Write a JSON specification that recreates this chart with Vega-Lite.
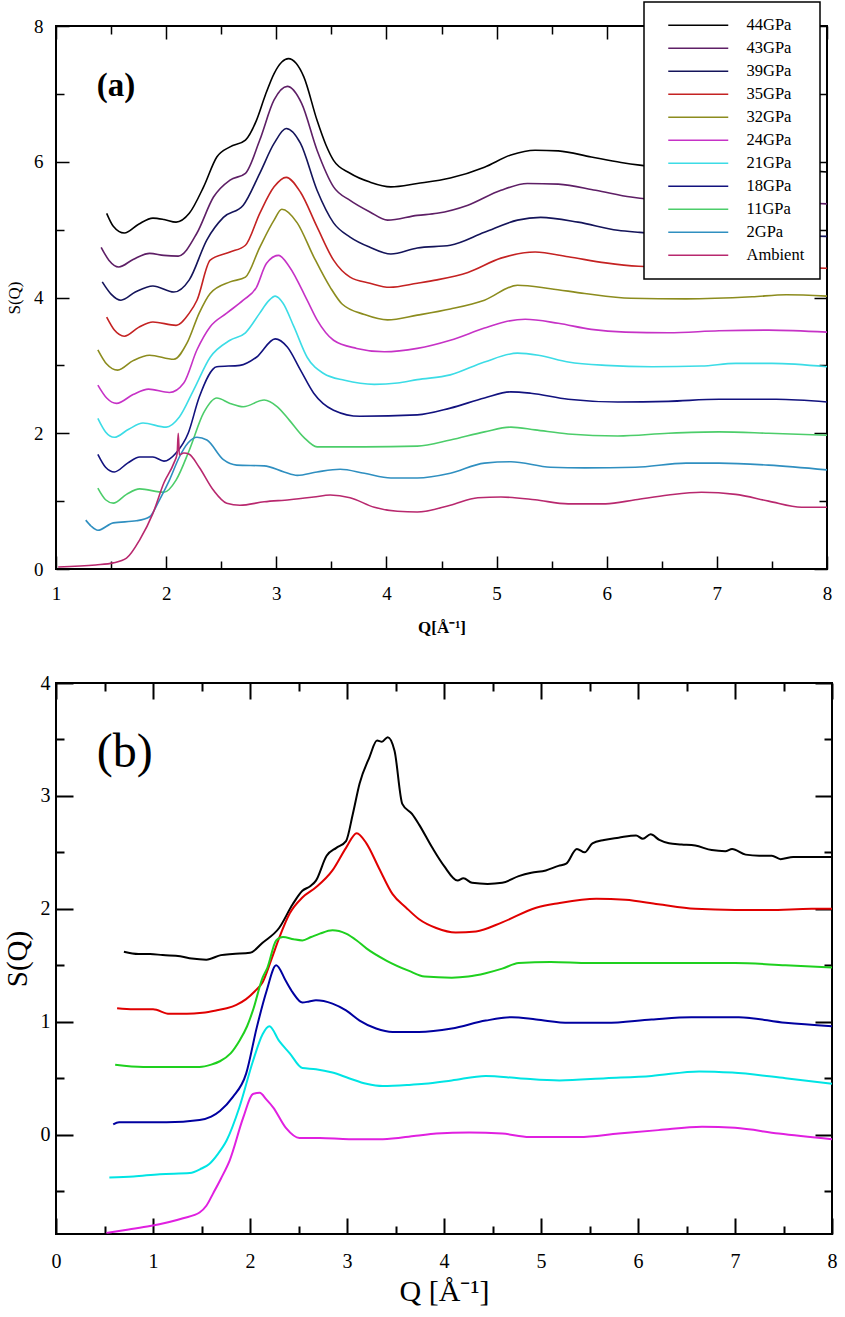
{
  "$schema": "https://vega.github.io/schema/vega-lite/v6.json",
  "background": "white",
  "padding": {"left": 2, "top": 0, "right": 5, "bottom": 5},
  "spacing": 36,
  "datasets": {
    "a": [
      {"p":"44GPa","Q":1.46,"S":5.24},{"p":"44GPa","Q":1.52,"S":5.05},{"p":"44GPa","Q":1.62,"S":4.95},{"p":"44GPa","Q":1.75,"S":5.08},{"p":"44GPa","Q":1.88,"S":5.17},{"p":"44GPa","Q":1.98,"S":5.15},{"p":"44GPa","Q":2.09,"S":5.11},{"p":"44GPa","Q":2.21,"S":5.24},{"p":"44GPa","Q":2.34,"S":5.63},{"p":"44GPa","Q":2.46,"S":6.07},{"p":"44GPa","Q":2.58,"S":6.22},{"p":"44GPa","Q":2.72,"S":6.32},{"p":"44GPa","Q":2.82,"S":6.61},{"p":"44GPa","Q":2.9,"S":6.98},{"p":"44GPa","Q":2.98,"S":7.3},{"p":"44GPa","Q":3.05,"S":7.47},{"p":"44GPa","Q":3.11,"S":7.52},{"p":"44GPa","Q":3.18,"S":7.45},{"p":"44GPa","Q":3.25,"S":7.25},{"p":"44GPa","Q":3.37,"S":6.61},{"p":"44GPa","Q":3.45,"S":6.25},{"p":"44GPa","Q":3.52,"S":6.02},{"p":"44GPa","Q":3.67,"S":5.83},{"p":"44GPa","Q":3.85,"S":5.7},{"p":"44GPa","Q":4.04,"S":5.63},{"p":"44GPa","Q":4.28,"S":5.68},{"p":"44GPa","Q":4.58,"S":5.76},{"p":"44GPa","Q":4.89,"S":5.92},{"p":"44GPa","Q":5.13,"S":6.1},{"p":"44GPa","Q":5.35,"S":6.17},{"p":"44GPa","Q":5.56,"S":6.16},{"p":"44GPa","Q":5.86,"S":6.07},{"p":"44GPa","Q":6.13,"S":5.99},{"p":"44GPa","Q":6.3,"S":5.95},{"p":"44GPa","Q":6.6,"S":5.9},{"p":"44GPa","Q":7.0,"S":5.88},{"p":"44GPa","Q":7.5,"S":5.88},{"p":"44GPa","Q":8.0,"S":5.85},
      {"p":"43GPa","Q":1.41,"S":4.74},{"p":"43GPa","Q":1.48,"S":4.55},{"p":"43GPa","Q":1.57,"S":4.45},{"p":"43GPa","Q":1.7,"S":4.56},{"p":"43GPa","Q":1.85,"S":4.65},{"p":"43GPa","Q":1.98,"S":4.62},{"p":"43GPa","Q":2.11,"S":4.61},{"p":"43GPa","Q":2.28,"S":4.95},{"p":"43GPa","Q":2.43,"S":5.48},{"p":"43GPa","Q":2.58,"S":5.73},{"p":"43GPa","Q":2.72,"S":5.83},{"p":"43GPa","Q":2.85,"S":6.32},{"p":"43GPa","Q":2.98,"S":6.91},{"p":"43GPa","Q":3.1,"S":7.11},{"p":"43GPa","Q":3.23,"S":6.86},{"p":"43GPa","Q":3.37,"S":6.17},{"p":"43GPa","Q":3.52,"S":5.63},{"p":"43GPa","Q":3.67,"S":5.43},{"p":"43GPa","Q":3.85,"S":5.26},{"p":"43GPa","Q":4.01,"S":5.14},{"p":"43GPa","Q":4.28,"S":5.21},{"p":"43GPa","Q":4.46,"S":5.24},{"p":"43GPa","Q":4.74,"S":5.36},{"p":"43GPa","Q":5.04,"S":5.58},{"p":"43GPa","Q":5.28,"S":5.68},{"p":"43GPa","Q":5.56,"S":5.67},{"p":"43GPa","Q":5.9,"S":5.58},{"p":"43GPa","Q":6.22,"S":5.48},{"p":"43GPa","Q":6.6,"S":5.42},{"p":"43GPa","Q":7.0,"S":5.4},{"p":"43GPa","Q":7.5,"S":5.4},{"p":"43GPa","Q":8.0,"S":5.38},
      {"p":"39GPa","Q":1.42,"S":4.23},{"p":"39GPa","Q":1.5,"S":4.05},{"p":"39GPa","Q":1.59,"S":3.96},{"p":"39GPa","Q":1.72,"S":4.08},{"p":"39GPa","Q":1.88,"S":4.17},{"p":"39GPa","Q":2.07,"S":4.08},{"p":"39GPa","Q":2.21,"S":4.26},{"p":"39GPa","Q":2.37,"S":4.85},{"p":"39GPa","Q":2.52,"S":5.18},{"p":"39GPa","Q":2.7,"S":5.36},{"p":"39GPa","Q":2.85,"S":5.83},{"p":"39GPa","Q":2.98,"S":6.27},{"p":"39GPa","Q":3.09,"S":6.49},{"p":"39GPa","Q":3.22,"S":6.27},{"p":"39GPa","Q":3.37,"S":5.58},{"p":"39GPa","Q":3.52,"S":5.1},{"p":"39GPa","Q":3.67,"S":4.89},{"p":"39GPa","Q":3.85,"S":4.74},{"p":"39GPa","Q":4.04,"S":4.64},{"p":"39GPa","Q":4.28,"S":4.73},{"p":"39GPa","Q":4.58,"S":4.77},{"p":"39GPa","Q":4.89,"S":4.96},{"p":"39GPa","Q":5.19,"S":5.14},{"p":"39GPa","Q":5.4,"S":5.18},{"p":"39GPa","Q":5.74,"S":5.11},{"p":"39GPa","Q":6.1,"S":4.99},{"p":"39GPa","Q":6.3,"S":4.96},{"p":"39GPa","Q":6.7,"S":4.92},{"p":"39GPa","Q":7.2,"S":4.92},{"p":"39GPa","Q":8.0,"S":4.9},
      {"p":"35GPa","Q":1.46,"S":3.71},{"p":"35GPa","Q":1.53,"S":3.52},{"p":"35GPa","Q":1.62,"S":3.43},{"p":"35GPa","Q":1.75,"S":3.56},{"p":"35GPa","Q":1.88,"S":3.64},{"p":"35GPa","Q":2.09,"S":3.59},{"p":"35GPa","Q":2.21,"S":3.77},{"p":"35GPa","Q":2.28,"S":3.96},{"p":"35GPa","Q":2.4,"S":4.55},{"p":"35GPa","Q":2.58,"S":4.67},{"p":"35GPa","Q":2.72,"S":4.77},{"p":"35GPa","Q":2.85,"S":5.24},{"p":"35GPa","Q":2.98,"S":5.63},{"p":"35GPa","Q":3.09,"S":5.77},{"p":"35GPa","Q":3.22,"S":5.55},{"p":"35GPa","Q":3.37,"S":5.04},{"p":"35GPa","Q":3.52,"S":4.55},{"p":"35GPa","Q":3.67,"S":4.3},{"p":"35GPa","Q":3.85,"S":4.21},{"p":"35GPa","Q":4.03,"S":4.15},{"p":"35GPa","Q":4.28,"S":4.21},{"p":"35GPa","Q":4.46,"S":4.26},{"p":"35GPa","Q":4.74,"S":4.37},{"p":"35GPa","Q":5.04,"S":4.58},{"p":"35GPa","Q":5.35,"S":4.67},{"p":"35GPa","Q":5.65,"S":4.6},{"p":"35GPa","Q":5.99,"S":4.51},{"p":"35GPa","Q":6.29,"S":4.46},{"p":"35GPa","Q":6.7,"S":4.44},{"p":"35GPa","Q":7.2,"S":4.45},{"p":"35GPa","Q":8.0,"S":4.43},
      {"p":"32GPa","Q":1.38,"S":3.23},{"p":"32GPa","Q":1.46,"S":3.02},{"p":"32GPa","Q":1.56,"S":2.93},{"p":"32GPa","Q":1.7,"S":3.07},{"p":"32GPa","Q":1.85,"S":3.15},{"p":"32GPa","Q":2.07,"S":3.09},{"p":"32GPa","Q":2.19,"S":3.33},{"p":"32GPa","Q":2.3,"S":3.77},{"p":"32GPa","Q":2.4,"S":4.06},{"p":"32GPa","Q":2.58,"S":4.23},{"p":"32GPa","Q":2.72,"S":4.3},{"p":"32GPa","Q":2.85,"S":4.74},{"p":"32GPa","Q":2.98,"S":5.14},{"p":"32GPa","Q":3.05,"S":5.3},{"p":"32GPa","Q":3.19,"S":5.1},{"p":"32GPa","Q":3.34,"S":4.6},{"p":"32GPa","Q":3.49,"S":4.15},{"p":"32GPa","Q":3.6,"S":3.9},{"p":"32GPa","Q":3.8,"S":3.75},{"p":"32GPa","Q":4.01,"S":3.67},{"p":"32GPa","Q":4.28,"S":3.74},{"p":"32GPa","Q":4.58,"S":3.83},{"p":"32GPa","Q":4.89,"S":3.96},{"p":"32GPa","Q":5.19,"S":4.18},{"p":"32GPa","Q":5.49,"S":4.13},{"p":"32GPa","Q":5.8,"S":4.06},{"p":"32GPa","Q":6.22,"S":3.99},{"p":"32GPa","Q":6.72,"S":3.98},{"p":"32GPa","Q":7.32,"S":4.01},{"p":"32GPa","Q":7.63,"S":4.04},{"p":"32GPa","Q":8.0,"S":4.02},
      {"p":"24GPa","Q":1.38,"S":2.71},{"p":"24GPa","Q":1.46,"S":2.52},{"p":"24GPa","Q":1.55,"S":2.44},{"p":"24GPa","Q":1.7,"S":2.57},{"p":"24GPa","Q":1.84,"S":2.65},{"p":"24GPa","Q":2.03,"S":2.6},{"p":"24GPa","Q":2.16,"S":2.74},{"p":"24GPa","Q":2.28,"S":3.23},{"p":"24GPa","Q":2.4,"S":3.57},{"p":"24GPa","Q":2.55,"S":3.77},{"p":"24GPa","Q":2.7,"S":3.96},{"p":"24GPa","Q":2.82,"S":4.15},{"p":"24GPa","Q":2.91,"S":4.5},{"p":"24GPa","Q":3.02,"S":4.62},{"p":"24GPa","Q":3.12,"S":4.45},{"p":"24GPa","Q":3.28,"S":3.96},{"p":"24GPa","Q":3.37,"S":3.67},{"p":"24GPa","Q":3.52,"S":3.37},{"p":"24GPa","Q":3.73,"S":3.25},{"p":"24GPa","Q":3.98,"S":3.2},{"p":"24GPa","Q":4.28,"S":3.25},{"p":"24GPa","Q":4.58,"S":3.37},{"p":"24GPa","Q":4.89,"S":3.55},{"p":"24GPa","Q":5.07,"S":3.64},{"p":"24GPa","Q":5.26,"S":3.68},{"p":"24GPa","Q":5.56,"S":3.62},{"p":"24GPa","Q":5.86,"S":3.53},{"p":"24GPa","Q":6.17,"S":3.49},{"p":"24GPa","Q":6.56,"S":3.48},{"p":"24GPa","Q":7.02,"S":3.51},{"p":"24GPa","Q":7.47,"S":3.52},{"p":"24GPa","Q":8.0,"S":3.49},
      {"p":"21GPa","Q":1.38,"S":2.22},{"p":"21GPa","Q":1.45,"S":2.02},{"p":"21GPa","Q":1.53,"S":1.94},{"p":"21GPa","Q":1.66,"S":2.06},{"p":"21GPa","Q":1.79,"S":2.15},{"p":"21GPa","Q":2.0,"S":2.09},{"p":"21GPa","Q":2.12,"S":2.24},{"p":"21GPa","Q":2.25,"S":2.64},{"p":"21GPa","Q":2.4,"S":3.12},{"p":"21GPa","Q":2.58,"S":3.37},{"p":"21GPa","Q":2.72,"S":3.48},{"p":"21GPa","Q":2.85,"S":3.77},{"p":"21GPa","Q":2.93,"S":3.95},{"p":"21GPa","Q":2.99,"S":4.02},{"p":"21GPa","Q":3.06,"S":3.92},{"p":"21GPa","Q":3.16,"S":3.57},{"p":"21GPa","Q":3.28,"S":3.12},{"p":"21GPa","Q":3.43,"S":2.88},{"p":"21GPa","Q":3.62,"S":2.78},{"p":"21GPa","Q":3.89,"S":2.72},{"p":"21GPa","Q":4.1,"S":2.74},{"p":"21GPa","Q":4.28,"S":2.79},{"p":"21GPa","Q":4.58,"S":2.86},{"p":"21GPa","Q":4.89,"S":3.05},{"p":"21GPa","Q":5.19,"S":3.18},{"p":"21GPa","Q":5.38,"S":3.15},{"p":"21GPa","Q":5.65,"S":3.05},{"p":"21GPa","Q":5.99,"S":3.0},{"p":"21GPa","Q":6.41,"S":2.98},{"p":"21GPa","Q":6.86,"S":2.99},{"p":"21GPa","Q":7.17,"S":3.03},{"p":"21GPa","Q":7.5,"S":3.03},{"p":"21GPa","Q":8.0,"S":2.98},
      {"p":"18GPa","Q":1.38,"S":1.69},{"p":"18GPa","Q":1.45,"S":1.5},{"p":"18GPa","Q":1.53,"S":1.43},{"p":"18GPa","Q":1.65,"S":1.56},{"p":"18GPa","Q":1.76,"S":1.65},{"p":"18GPa","Q":1.88,"S":1.65},{"p":"18GPa","Q":1.98,"S":1.59},{"p":"18GPa","Q":2.09,"S":1.71},{"p":"18GPa","Q":2.2,"S":2.0},{"p":"18GPa","Q":2.3,"S":2.53},{"p":"18GPa","Q":2.46,"S":2.98},{"p":"18GPa","Q":2.67,"S":3.0},{"p":"18GPa","Q":2.82,"S":3.12},{"p":"18GPa","Q":2.99,"S":3.39},{"p":"18GPa","Q":3.1,"S":3.27},{"p":"18GPa","Q":3.22,"S":2.93},{"p":"18GPa","Q":3.34,"S":2.59},{"p":"18GPa","Q":3.52,"S":2.34},{"p":"18GPa","Q":3.76,"S":2.25},{"p":"18GPa","Q":4.28,"S":2.27},{"p":"18GPa","Q":4.58,"S":2.37},{"p":"18GPa","Q":4.89,"S":2.52},{"p":"18GPa","Q":5.13,"S":2.61},{"p":"18GPa","Q":5.31,"S":2.59},{"p":"18GPa","Q":5.65,"S":2.5},{"p":"18GPa","Q":6.1,"S":2.46},{"p":"18GPa","Q":6.56,"S":2.47},{"p":"18GPa","Q":7.02,"S":2.5},{"p":"18GPa","Q":7.54,"S":2.5},{"p":"18GPa","Q":8.0,"S":2.46},
      {"p":"11GPa","Q":1.38,"S":1.19},{"p":"11GPa","Q":1.45,"S":1.02},{"p":"11GPa","Q":1.52,"S":0.97},{"p":"11GPa","Q":1.64,"S":1.1},{"p":"11GPa","Q":1.76,"S":1.18},{"p":"11GPa","Q":1.98,"S":1.13},{"p":"11GPa","Q":2.09,"S":1.31},{"p":"11GPa","Q":2.21,"S":1.75},{"p":"11GPa","Q":2.34,"S":2.3},{"p":"11GPa","Q":2.46,"S":2.52},{"p":"11GPa","Q":2.58,"S":2.44},{"p":"11GPa","Q":2.7,"S":2.39},{"p":"11GPa","Q":2.89,"S":2.49},{"p":"11GPa","Q":3.01,"S":2.39},{"p":"11GPa","Q":3.12,"S":2.19},{"p":"11GPa","Q":3.25,"S":1.94},{"p":"11GPa","Q":3.37,"S":1.8},{"p":"11GPa","Q":3.8,"S":1.8},{"p":"11GPa","Q":4.28,"S":1.81},{"p":"11GPa","Q":4.58,"S":1.9},{"p":"11GPa","Q":4.89,"S":2.02},{"p":"11GPa","Q":5.13,"S":2.09},{"p":"11GPa","Q":5.35,"S":2.05},{"p":"11GPa","Q":5.65,"S":1.99},{"p":"11GPa","Q":6.1,"S":1.96},{"p":"11GPa","Q":6.56,"S":2.0},{"p":"11GPa","Q":7.02,"S":2.02},{"p":"11GPa","Q":7.47,"S":2.0},{"p":"11GPa","Q":8.0,"S":1.97},
      {"p":"2GPa","Q":1.27,"S":0.72},{"p":"2GPa","Q":1.32,"S":0.63},{"p":"2GPa","Q":1.38,"S":0.57},{"p":"2GPa","Q":1.52,"S":0.68},{"p":"2GPa","Q":1.73,"S":0.71},{"p":"2GPa","Q":1.85,"S":0.77},{"p":"2GPa","Q":1.94,"S":1.02},{"p":"2GPa","Q":2.03,"S":1.31},{"p":"2GPa","Q":2.12,"S":1.65},{"p":"2GPa","Q":2.2,"S":1.86},{"p":"2GPa","Q":2.28,"S":1.94},{"p":"2GPa","Q":2.37,"S":1.9},{"p":"2GPa","Q":2.52,"S":1.61},{"p":"2GPa","Q":2.64,"S":1.53},{"p":"2GPa","Q":2.89,"S":1.52},{"p":"2GPa","Q":3.07,"S":1.43},{"p":"2GPa","Q":3.19,"S":1.38},{"p":"2GPa","Q":3.37,"S":1.43},{"p":"2GPa","Q":3.58,"S":1.47},{"p":"2GPa","Q":3.8,"S":1.41},{"p":"2GPa","Q":4.04,"S":1.34},{"p":"2GPa","Q":4.28,"S":1.34},{"p":"2GPa","Q":4.58,"S":1.41},{"p":"2GPa","Q":4.89,"S":1.56},{"p":"2GPa","Q":5.13,"S":1.58},{"p":"2GPa","Q":5.49,"S":1.5},{"p":"2GPa","Q":5.8,"S":1.49},{"p":"2GPa","Q":6.26,"S":1.5},{"p":"2GPa","Q":6.72,"S":1.56},{"p":"2GPa","Q":7.02,"S":1.56},{"p":"2GPa","Q":7.47,"S":1.53},{"p":"2GPa","Q":8.0,"S":1.46},
      {"p":"Ambient","Q":1.02,"S":0.03},{"p":"Ambient","Q":1.36,"S":0.06},{"p":"Ambient","Q":1.52,"S":0.09},{"p":"Ambient","Q":1.64,"S":0.16},{"p":"Ambient","Q":1.76,"S":0.43},{"p":"Ambient","Q":1.88,"S":0.82},{"p":"Ambient","Q":1.98,"S":1.27},{"p":"Ambient","Q":2.07,"S":1.56},{"p":"Ambient","Q":2.1,"S":1.7},{"p":"Ambient","Q":2.11,"S":2.0},{"p":"Ambient","Q":2.12,"S":1.68},{"p":"Ambient","Q":2.16,"S":1.71},{"p":"Ambient","Q":2.21,"S":1.69},{"p":"Ambient","Q":2.3,"S":1.5},{"p":"Ambient","Q":2.43,"S":1.16},{"p":"Ambient","Q":2.55,"S":0.97},{"p":"Ambient","Q":2.67,"S":0.94},{"p":"Ambient","Q":2.89,"S":0.99},{"p":"Ambient","Q":3.12,"S":1.02},{"p":"Ambient","Q":3.34,"S":1.06},{"p":"Ambient","Q":3.49,"S":1.09},{"p":"Ambient","Q":3.67,"S":1.05},{"p":"Ambient","Q":3.89,"S":0.91},{"p":"Ambient","Q":4.1,"S":0.85},{"p":"Ambient","Q":4.28,"S":0.84},{"p":"Ambient","Q":4.58,"S":0.94},{"p":"Ambient","Q":4.83,"S":1.05},{"p":"Ambient","Q":5.04,"S":1.06},{"p":"Ambient","Q":5.35,"S":1.02},{"p":"Ambient","Q":5.65,"S":0.96},{"p":"Ambient","Q":5.99,"S":0.96},{"p":"Ambient","Q":6.26,"S":1.02},{"p":"Ambient","Q":6.56,"S":1.09},{"p":"Ambient","Q":6.86,"S":1.13},{"p":"Ambient","Q":7.17,"S":1.1},{"p":"Ambient","Q":7.47,"S":1.0},{"p":"Ambient","Q":7.77,"S":0.91},{"p":"Ambient","Q":8.0,"S":0.91}
    ],
    "b": [
      {"c":"k","Q":0.7,"S":1.62},{"c":"k","Q":0.85,"S":1.6},{"c":"k","Q":0.97,"S":1.6},{"c":"k","Q":1.1,"S":1.59},{"c":"k","Q":1.28,"S":1.58},{"c":"k","Q":1.4,"S":1.56},{"c":"k","Q":1.55,"S":1.55},{"c":"k","Q":1.7,"S":1.59},{"c":"k","Q":1.82,"S":1.6},{"c":"k","Q":2.0,"S":1.61},{"c":"k","Q":2.13,"S":1.7},{"c":"k","Q":2.3,"S":1.83},{"c":"k","Q":2.44,"S":2.04},{"c":"k","Q":2.54,"S":2.16},{"c":"k","Q":2.62,"S":2.2},{"c":"k","Q":2.68,"S":2.25},{"c":"k","Q":2.79,"S":2.47},{"c":"k","Q":2.89,"S":2.54},{"c":"k","Q":2.99,"S":2.6},{"c":"k","Q":3.06,"S":2.84},{"c":"k","Q":3.13,"S":3.11},{"c":"k","Q":3.23,"S":3.34},{"c":"k","Q":3.31,"S":3.49},{"c":"k","Q":3.36,"S":3.48},{"c":"k","Q":3.42,"S":3.52},{"c":"k","Q":3.49,"S":3.4},{"c":"k","Q":3.57,"S":2.93},{"c":"k","Q":3.67,"S":2.84},{"c":"k","Q":3.74,"S":2.75},{"c":"k","Q":3.88,"S":2.54},{"c":"k","Q":4.0,"S":2.38},{"c":"k","Q":4.14,"S":2.25},{"c":"k","Q":4.2,"S":2.27},{"c":"k","Q":4.29,"S":2.23},{"c":"k","Q":4.45,"S":2.22},{"c":"k","Q":4.6,"S":2.23},{"c":"k","Q":4.77,"S":2.29},{"c":"k","Q":4.9,"S":2.32},{"c":"k","Q":5.05,"S":2.34},{"c":"k","Q":5.18,"S":2.38},{"c":"k","Q":5.26,"S":2.4},{"c":"k","Q":5.37,"S":2.53},{"c":"k","Q":5.45,"S":2.5},{"c":"k","Q":5.53,"S":2.58},{"c":"k","Q":5.65,"S":2.61},{"c":"k","Q":5.8,"S":2.63},{"c":"k","Q":5.98,"S":2.65},{"c":"k","Q":6.05,"S":2.62},{"c":"k","Q":6.13,"S":2.66},{"c":"k","Q":6.22,"S":2.61},{"c":"k","Q":6.32,"S":2.58},{"c":"k","Q":6.45,"S":2.57},{"c":"k","Q":6.59,"S":2.56},{"c":"k","Q":6.76,"S":2.52},{"c":"k","Q":6.9,"S":2.51},{"c":"k","Q":6.97,"S":2.53},{"c":"k","Q":7.11,"S":2.48},{"c":"k","Q":7.25,"S":2.47},{"c":"k","Q":7.38,"S":2.47},{"c":"k","Q":7.47,"S":2.44},{"c":"k","Q":7.6,"S":2.46},{"c":"k","Q":7.69,"S":2.46},{"c":"k","Q":7.85,"S":2.46},{"c":"k","Q":8.0,"S":2.46},
      {"c":"r","Q":0.63,"S":1.12},{"c":"r","Q":0.8,"S":1.11},{"c":"r","Q":1.0,"S":1.11},{"c":"r","Q":1.17,"S":1.07},{"c":"r","Q":1.35,"S":1.07},{"c":"r","Q":1.51,"S":1.08},{"c":"r","Q":1.65,"S":1.1},{"c":"r","Q":1.76,"S":1.12},{"c":"r","Q":1.86,"S":1.15},{"c":"r","Q":1.96,"S":1.2},{"c":"r","Q":2.05,"S":1.27},{"c":"r","Q":2.13,"S":1.35},{"c":"r","Q":2.22,"S":1.55},{"c":"r","Q":2.3,"S":1.74},{"c":"r","Q":2.41,"S":1.96},{"c":"r","Q":2.54,"S":2.1},{"c":"r","Q":2.68,"S":2.19},{"c":"r","Q":2.85,"S":2.34},{"c":"r","Q":2.99,"S":2.54},{"c":"r","Q":3.1,"S":2.67},{"c":"r","Q":3.2,"S":2.58},{"c":"r","Q":3.33,"S":2.36},{"c":"r","Q":3.47,"S":2.13},{"c":"r","Q":3.61,"S":2.01},{"c":"r","Q":3.74,"S":1.91},{"c":"r","Q":3.92,"S":1.83},{"c":"r","Q":4.12,"S":1.79},{"c":"r","Q":4.33,"S":1.8},{"c":"r","Q":4.6,"S":1.88},{"c":"r","Q":4.95,"S":2.01},{"c":"r","Q":5.18,"S":2.05},{"c":"r","Q":5.57,"S":2.09},{"c":"r","Q":5.87,"S":2.08},{"c":"r","Q":6.21,"S":2.04},{"c":"r","Q":6.59,"S":2.0},{"c":"r","Q":7.0,"S":1.99},{"c":"r","Q":7.35,"S":1.99},{"c":"r","Q":7.79,"S":2.0},{"c":"r","Q":8.0,"S":2.0},
      {"c":"g","Q":0.61,"S":0.62},{"c":"g","Q":0.9,"S":0.6},{"c":"g","Q":1.2,"S":0.6},{"c":"g","Q":1.48,"S":0.6},{"c":"g","Q":1.6,"S":0.62},{"c":"g","Q":1.69,"S":0.65},{"c":"g","Q":1.8,"S":0.72},{"c":"g","Q":1.89,"S":0.83},{"c":"g","Q":1.97,"S":0.96},{"c":"g","Q":2.03,"S":1.1},{"c":"g","Q":2.13,"S":1.39},{"c":"g","Q":2.18,"S":1.48},{"c":"g","Q":2.27,"S":1.72},{"c":"g","Q":2.34,"S":1.75},{"c":"g","Q":2.45,"S":1.73},{"c":"g","Q":2.54,"S":1.72},{"c":"g","Q":2.63,"S":1.75},{"c":"g","Q":2.72,"S":1.78},{"c":"g","Q":2.85,"S":1.81},{"c":"g","Q":2.99,"S":1.78},{"c":"g","Q":3.1,"S":1.72},{"c":"g","Q":3.2,"S":1.65},{"c":"g","Q":3.41,"S":1.54},{"c":"g","Q":3.64,"S":1.45},{"c":"g","Q":3.8,"S":1.4},{"c":"g","Q":4.08,"S":1.39},{"c":"g","Q":4.25,"S":1.4},{"c":"g","Q":4.43,"S":1.43},{"c":"g","Q":4.6,"S":1.47},{"c":"g","Q":4.77,"S":1.52},{"c":"g","Q":5.1,"S":1.53},{"c":"g","Q":5.5,"S":1.52},{"c":"g","Q":5.8,"S":1.52},{"c":"g","Q":6.49,"S":1.52},{"c":"g","Q":7.0,"S":1.52},{"c":"g","Q":7.52,"S":1.5},{"c":"g","Q":8.0,"S":1.48},
      {"c":"n","Q":0.59,"S":0.09},{"c":"n","Q":0.65,"S":0.11},{"c":"n","Q":0.76,"S":0.11},{"c":"n","Q":1.14,"S":0.11},{"c":"n","Q":1.48,"S":0.13},{"c":"n","Q":1.6,"S":0.16},{"c":"n","Q":1.69,"S":0.21},{"c":"n","Q":1.82,"S":0.33},{"c":"n","Q":1.96,"S":0.54},{"c":"n","Q":2.07,"S":0.95},{"c":"n","Q":2.17,"S":1.27},{"c":"n","Q":2.27,"S":1.5},{"c":"n","Q":2.37,"S":1.36},{"c":"n","Q":2.44,"S":1.26},{"c":"n","Q":2.54,"S":1.17},{"c":"n","Q":2.61,"S":1.18},{"c":"n","Q":2.68,"S":1.19},{"c":"n","Q":2.85,"S":1.16},{"c":"n","Q":2.99,"S":1.1},{"c":"n","Q":3.13,"S":1.01},{"c":"n","Q":3.3,"S":0.94},{"c":"n","Q":3.47,"S":0.91},{"c":"n","Q":3.74,"S":0.91},{"c":"n","Q":4.08,"S":0.94},{"c":"n","Q":4.43,"S":1.01},{"c":"n","Q":4.7,"S":1.04},{"c":"n","Q":4.95,"S":1.02},{"c":"n","Q":5.29,"S":0.99},{"c":"n","Q":5.67,"S":0.99},{"c":"n","Q":6.14,"S":1.02},{"c":"n","Q":6.55,"S":1.04},{"c":"n","Q":7.04,"S":1.04},{"c":"n","Q":7.52,"S":0.99},{"c":"n","Q":8.0,"S":0.96},
      {"c":"c","Q":0.55,"S":-0.38},{"c":"c","Q":0.8,"S":-0.37},{"c":"c","Q":1.07,"S":-0.35},{"c":"c","Q":1.38,"S":-0.34},{"c":"c","Q":1.5,"S":-0.3},{"c":"c","Q":1.58,"S":-0.26},{"c":"c","Q":1.67,"S":-0.17},{"c":"c","Q":1.76,"S":-0.05},{"c":"c","Q":1.89,"S":0.24},{"c":"c","Q":2.03,"S":0.65},{"c":"c","Q":2.13,"S":0.89},{"c":"c","Q":2.2,"S":0.96},{"c":"c","Q":2.3,"S":0.83},{"c":"c","Q":2.41,"S":0.72},{"c":"c","Q":2.54,"S":0.59},{"c":"c","Q":2.68,"S":0.58},{"c":"c","Q":2.85,"S":0.55},{"c":"c","Q":3.02,"S":0.5},{"c":"c","Q":3.2,"S":0.45},{"c":"c","Q":3.37,"S":0.43},{"c":"c","Q":3.64,"S":0.44},{"c":"c","Q":3.8,"S":0.45},{"c":"c","Q":4.08,"S":0.48},{"c":"c","Q":4.43,"S":0.52},{"c":"c","Q":4.77,"S":0.5},{"c":"c","Q":5.19,"S":0.48},{"c":"c","Q":5.67,"S":0.5},{"c":"c","Q":6.14,"S":0.52},{"c":"c","Q":6.63,"S":0.56},{"c":"c","Q":6.97,"S":0.55},{"c":"c","Q":7.52,"S":0.5},{"c":"c","Q":8.0,"S":0.45},
      {"c":"m","Q":0.52,"S":-0.87},{"c":"m","Q":0.75,"S":-0.84},{"c":"m","Q":0.97,"S":-0.81},{"c":"m","Q":1.31,"S":-0.74},{"c":"m","Q":1.48,"S":-0.69},{"c":"m","Q":1.55,"S":-0.63},{"c":"m","Q":1.62,"S":-0.52},{"c":"m","Q":1.7,"S":-0.39},{"c":"m","Q":1.79,"S":-0.23},{"c":"m","Q":1.93,"S":0.15},{"c":"m","Q":2.03,"S":0.36},{"c":"m","Q":2.1,"S":0.37},{"c":"m","Q":2.17,"S":0.31},{"c":"m","Q":2.24,"S":0.24},{"c":"m","Q":2.37,"S":0.06},{"c":"m","Q":2.51,"S":-0.03},{"c":"m","Q":2.72,"S":-0.03},{"c":"m","Q":3.02,"S":-0.04},{"c":"m","Q":3.37,"S":-0.04},{"c":"m","Q":3.71,"S":-0.01},{"c":"m","Q":3.92,"S":0.01},{"c":"m","Q":4.26,"S":0.02},{"c":"m","Q":4.6,"S":0.01},{"c":"m","Q":4.88,"S":-0.02},{"c":"m","Q":5.39,"S":-0.02},{"c":"m","Q":5.8,"S":0.01},{"c":"m","Q":6.21,"S":0.04},{"c":"m","Q":6.66,"S":0.07},{"c":"m","Q":7.0,"S":0.06},{"c":"m","Q":7.45,"S":0.01},{"c":"m","Q":8.0,"S":-0.04}
    ]
  },
  "vconcat": [
    {
      "width": 771,
      "height": 543,
      "layer": [
        {
          "data": {"name": "a"},
          "mark": {"type": "line", "strokeWidth": 1.6, "interpolate": "monotone"},
          "encoding": {
            "x": {"field": "Q", "type": "quantitative", "scale": {"domain": [1, 8], "nice": false, "zero": false},
              "axis": {"orient": "bottom", "values": [1,2,3,4,5,6,7,8], "format": "d", "ticks": false, "domain": false,
                "grid": true, "gridDash": [13, 517, 13], "gridColor": "black", "gridWidth": 1.5, "gridOpacity": 1,
                "labelPadding": 15, "labelFontSize": 19, "title": "Q[Å⁻¹]", "titleFontSize": 17, "titleFontWeight": "bold", "titlePadding": 16}},
            "y": {"field": "S", "type": "quantitative", "scale": {"domain": [0, 8], "nice": false},
              "axis": {"orient": "left", "values": [0,2,4,6,8], "format": "d", "ticks": false, "domain": false,
                "grid": true, "gridDash": [13, 745, 13], "gridColor": "black", "gridWidth": 1.5, "gridOpacity": 1,
                "labelPadding": 13, "labelFontSize": 19, "title": "S(Q)", "titleFontSize": 17, "titleFontWeight": "normal", "titlePadding": 10}},
            "color": {"field": "p", "type": "nominal",
              "scale": {"domain": ["44GPa","43GPa","39GPa","35GPa","32GPa","24GPa","21GPa","18GPa","11GPa","2GPa","Ambient"],
                "range": ["#000000","#5e1f66","#14145a","#c42222","#8c8c1e","#c632c6","#3cdce6","#12127e","#4ccd6a","#2f8fc0","#b8286e"]},
              "legend": {"orient": "none", "legendX": 588, "legendY": -24, "title": null,
                "symbolType": "M-6,0H6", "symbolSize": 100, "symbolStrokeWidth": 1.5,
                "symbolOffset": 31, "labelOffset": 40, "labelFont": "Liberation Serif", "labelFontSize": 16.5, "labelColor": "black",
                "rowPadding": 6.0, "padding": 15, "strokeColor": "black", "fillColor": "white"}}
          }
        },
        {
          "data": {"values": [{"Q": 1.37, "S": 7.12, "t": "(a)"}]},
          "mark": {"type": "text", "align": "left", "baseline": "middle", "font": "Liberation Serif", "fontSize": 33, "fontWeight": "bold", "color": "black"},
          "encoding": {
            "x": {"field": "Q", "type": "quantitative",
              "axis": {"orient": "top", "values": [1.5,2.5,3.5,4.5,5.5,6.5,7.5], "labels": false, "title": null, "ticks": false, "domain": false,
                "grid": true, "gridDash": [8, 527, 8], "gridColor": "black", "gridWidth": 1.5, "gridOpacity": 1}},
            "y": {"field": "S", "type": "quantitative",
              "axis": {"orient": "right", "values": [1,3,5,7], "labels": false, "title": null, "ticks": false, "domain": false,
                "grid": true, "gridDash": [8, 755, 8], "gridColor": "black", "gridWidth": 1.5, "gridOpacity": 1}},
            "text": {"field": "t"}
          }
        }
      ],
      "resolve": {"axis": {"x": "independent", "y": "independent"}}
    },
    {
      "width": 776,
      "height": 551,
      "layer": [
        {
          "data": {"name": "b"},
          "mark": {"type": "line", "strokeWidth": 2, "interpolate": "monotone"},
          "encoding": {
            "x": {"field": "Q", "type": "quantitative", "scale": {"domain": [0, 8], "nice": false},
              "axis": {"orient": "bottom", "values": [0,1,2,3,4,5,6,7,8], "format": "d", "ticks": false, "domain": false,
                "grid": true, "gridDash": [16, 519, 16], "gridColor": "black", "gridWidth": 2, "gridOpacity": 1,
                "labelPadding": 17, "labelFontSize": 20, "title": "Q [Å⁻¹]", "titleFontSize": 30, "titleFontWeight": "normal", "titlePadding": 5}},
            "y": {"field": "S", "type": "quantitative", "scale": {"domain": [-0.88, 4], "nice": false, "zero": false},
              "axis": {"orient": "left", "values": [0,1,2,3,4], "format": "d", "ticks": false, "domain": false,
                "grid": true, "gridDash": [17, 742, 17], "gridColor": "black", "gridWidth": 2, "gridOpacity": 1,
                "labelPadding": 6, "labelFontSize": 20, "title": "S(Q)", "titleFontSize": 29, "titleFontWeight": "normal", "titlePadding": 8}},
            "color": {"field": "c", "type": "nominal",
              "scale": {"domain": ["k","r","g","n","c","m"], "range": ["#000000","#e00000","#1ed01e","#0000a0","#00e4e4","#e020e0"]},
              "legend": null}
          }
        },
        {
          "data": {"values": [{"Q": 0.42, "S": 3.38, "t": "(b)"}]},
          "mark": {"type": "text", "align": "left", "baseline": "middle", "font": "Liberation Serif", "fontSize": 48, "fontWeight": "normal", "color": "black"},
          "encoding": {
            "x": {"field": "Q", "type": "quantitative",
              "axis": {"orient": "top", "values": [0.5,1.5,2.5,3.5,4.5,5.5,6.5,7.5], "labels": false, "title": null, "ticks": false, "domain": false,
                "grid": true, "gridDash": [8, 535, 8], "gridColor": "black", "gridWidth": 2, "gridOpacity": 1}},
            "y": {"field": "S", "type": "quantitative",
              "axis": {"orient": "right", "values": [-0.5,0.5,1.5,2.5,3.5], "labels": false, "title": null, "ticks": false, "domain": false,
                "grid": true, "gridDash": [8, 760, 8], "gridColor": "black", "gridWidth": 2, "gridOpacity": 1}},
            "text": {"field": "t"}
          }
        }
      ],
      "resolve": {"axis": {"x": "independent", "y": "independent"}}
    }
  ],
  "resolve": {"scale": {"color": "independent", "x": "independent", "y": "independent"}, "legend": {"color": "independent"}},
  "config": {
    "font": "Liberation Serif",
    "view": {"stroke": "black", "strokeWidth": 2},
    "axis": {"labelColor": "black", "titleColor": "black", "labelFont": "Liberation Serif", "titleFont": "Liberation Serif",
      "labelFlush": false, "labelOverlap": false},
    "legend": {"strokeWidth": 1.5}
  }
}
